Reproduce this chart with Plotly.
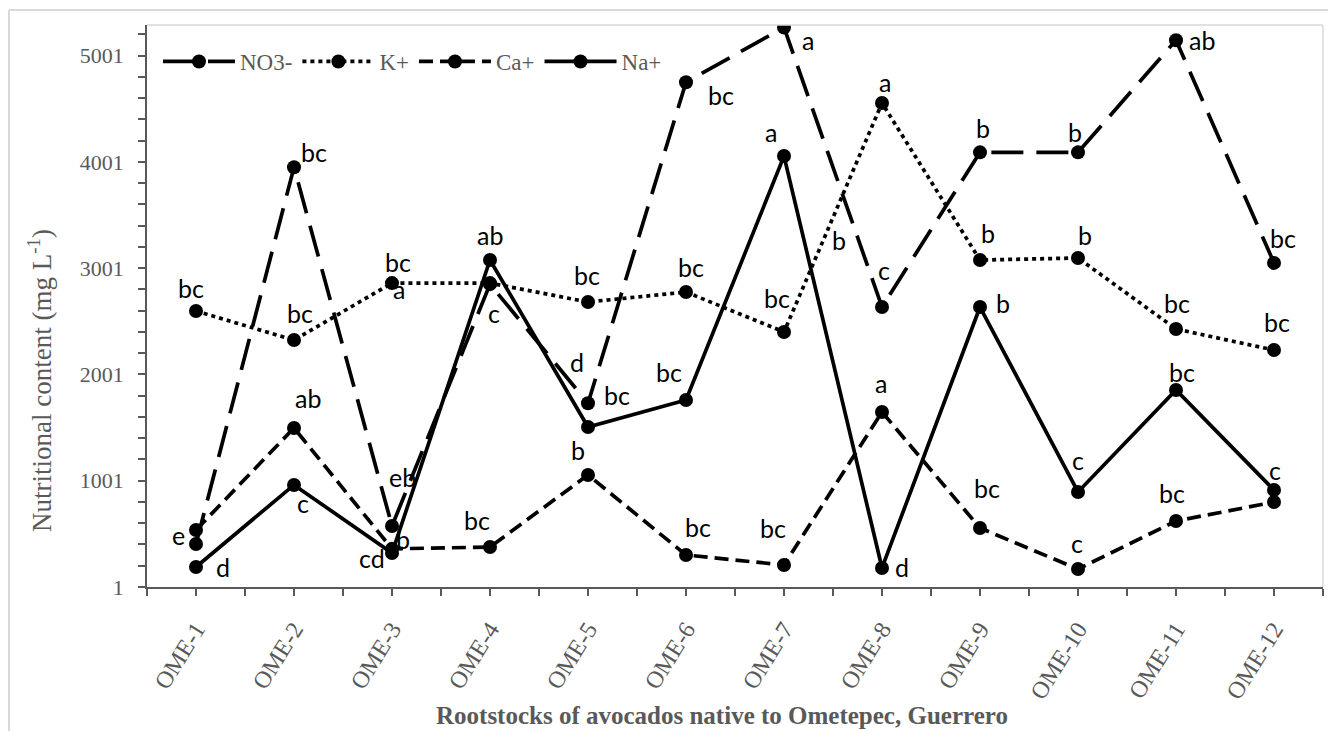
import plotly.graph_objects as go

# ---------------- data ----------------
categories = ["OME-1", "OME-2", "OME-3", "OME-4", "OME-5", "OME-6",
              "OME-7", "OME-8", "OME-9", "OME-10", "OME-11", "OME-12"]

no3 = [405, 3950, 575, 2850, 1730, 4750, 5265, 2635, 4090, 4090, 5145, 3050]
k_plus = [2597, 2324, 2860, 2860, 2682, 2776, 2400, 4554, 3077, 3096, 2428, 2230]
ca_plus = [537, 1497, 360, 377, 1055, 302, 208, 1647, 556, 170, 622, 800]
na_plus = [189, 961, 321, 3077, 1506, 1760, 4055, 180, 2635, 895, 1854, 913]

no3_letters = ["e", "bc", "eb", "c", "d", "bc", "a", "c", "b", "b", "ab", "bc"]
k_letters = ["bc", "bc", "bc", "", "bc", "bc", "bc", "a", "b", "b", "bc", "bc"]
ca_letters = ["", "ab", "b", "bc", "b", "bc", "bc", "a", "bc", "c", "bc", ""]
na_letters = ["d", "c", "cd", "ab", "bc", "bc", "a", "d", "b", "c", "bc", "c"]

y_tick_values = [1, 1001, 2001, 3001, 4001, 5001]

# ---------------- styling / placement (pixels) ----------------
no3_off = [(-18, 9), (20, 15), (10, 49), (4, -29), (-11, 41), (35, -13), (24, -13),
           (2, 37), (3, 24), (-3, 20), (26, 0), (9, 25)]
k_off = [(-5, 23), (6, 27), (6, 21), (0, 0), (-1, 27), (5, 25), (-7, 34), (3, 21),
         (8, 27), (7, 23), (1, 26), (3, 28)]
ca_off = [(0, 0), (14, 30), (11, 10), (-13, 27), (-10, 25), (12, 28), (-11, 37),
          (-1, 29), (7, 40), (-1, 26), (-4, 28), (0, 0)]
na_off = [(27, 0), (9, -18), (-20, -5), (0, 25), (29, 32), (-17, 28), (-13, 24),
          (20, 1), (23, 4), (0, 32), (6, 18), (1, 20)]
# extra stray letters in the original: (series values, index, text, dx, dy)
extra_labels = [(k_plus, 2, "a", 7, -6), (no3, 7, "b", -43, 67)]

GRAY = "#595959"
LIGHT = "#d9d9d9"
SERIF = "Liberation Serif, Times New Roman, serif"
SANS = "Lato, Carlito, Calibri, sans-serif"
LABEL_SIZE = 25

W, H = 1328, 731
L, R, T, B = 147, 5, 25, 144
PW, PH = W - L - R, H - T - B

x_idx = list(range(1, len(categories) + 1))

series = [
    ("NO3-", no3, "32px,13px", no3_letters, no3_off),
    ("K+", k_plus, "4px,4px", k_letters, k_off),
    ("Ca+", ca_plus, "14px,7px", ca_letters, ca_off),
    ("Na+", na_plus, "solid", na_letters, na_off),
]

fig = go.Figure()
for name, vals, dash, _, _ in series:
    fig.add_trace(go.Scatter(
        x=x_idx, y=vals, name=name, mode="lines+markers",
        line=dict(color="black", width=3.7, dash=dash),
        marker=dict(color="black", size=14),
    ))

annotations = []
for name, vals, dash, letters, offs in series:
    for i, (t, (dx, dy)) in enumerate(zip(letters, offs)):
        if not t:
            continue
        annotations.append(dict(x=x_idx[i], y=vals[i], xref="x", yref="y", text=t,
                                showarrow=False, xshift=dx, yshift=dy,
                                font=dict(family=SANS, size=LABEL_SIZE, color="black")))
for vals, i, t, dx, dy in extra_labels:
    annotations.append(dict(x=x_idx[i], y=vals[i], xref="x", yref="y", text=t,
                            showarrow=False, xshift=dx, yshift=dy,
                            font=dict(family=SANS, size=LABEL_SIZE, color="black")))

# axis titles
annotations.append(dict(text="Nutritional content (mg L<sup>-1</sup>)",
                        xref="paper", yref="paper",
                        x=(40 - L) / PW, y=(H - B - 381) / PH, textangle=-90,
                        xanchor="center", yanchor="middle",
                        showarrow=False, font=dict(family=SERIF, size=27, color=GRAY)))
annotations.append(dict(text="<b>Rootstocks of avocados native to Ometepec, Guerrero</b>",
                        xref="paper", yref="paper",
                        x=(722 - L) / PW, y=(H - B - 715) / PH,
                        xanchor="center", yanchor="middle",
                        showarrow=False, font=dict(family=SERIF, size=25, color=GRAY)))

# minor ticks on category boundaries
x_bounds = [i + 0.5 for i in range(0, len(categories) + 1)]

shapes = [
    # outer chart border
    dict(type="line", xref="paper", yref="paper", x0=(9 - L) / PW, x1=(W + 5 - L) / PW,
         y0=(H - B - 10) / PH, y1=(H - B - 10) / PH, line=dict(color=LIGHT, width=2)),
    dict(type="line", xref="paper", yref="paper", x0=(9 - L) / PW, x1=(9 - L) / PW,
         y0=(H - B - 10) / PH, y1=(H - B - H - 5) / PH, line=dict(color=LIGHT, width=2)),
    # plot area border (top, right)
    dict(type="line", xref="paper", yref="paper", x0=0, x1=1, y0=1, y1=1,
         line=dict(color=LIGHT, width=1.5)),
    dict(type="line", xref="paper", yref="paper", x0=1, x1=1, y0=0, y1=1,
         line=dict(color=LIGHT, width=1.5)),
]

fig.update_layout(
    width=W, height=H,
    margin=dict(l=L, r=R, t=T, b=B),
    paper_bgcolor="white", plot_bgcolor="white",
    showlegend=True,
    legend=dict(orientation="h", x=(158 - L) / PW, y=(H - B - 40) / PH,
                xanchor="left", yanchor="top",
                font=dict(family=SERIF, size=23, color=GRAY),
                bgcolor="rgba(0,0,0,0)", itemwidth=72, tracegroupgap=0),
    annotations=annotations,
    shapes=shapes,
)

fig.update_xaxes(
    range=[0.5, len(categories) + 0.5],
    tickmode="array", tickvals=x_idx, ticktext=categories,
    tickangle=-58, ticks="outside", ticklen=7, tickwidth=1.5, tickcolor=GRAY,
    ticklabelstandoff=10,
    tickfont=dict(family=SERIF, size=24, color=GRAY),
    minor=dict(tickmode="array", tickvals=x_bounds, ticks="outside",
               ticklen=7, tickwidth=1.5, tickcolor=GRAY, showgrid=False),
    showline=True, linecolor=GRAY, linewidth=1.5,
    showgrid=False, zeroline=False,
)
fig.update_yaxes(
    range=[1, 5288],
    tickmode="array", tickvals=y_tick_values,
    ticks="outside", ticklen=7, tickwidth=1.5, tickcolor=GRAY,
    ticklabelstandoff=10,
    tickfont=dict(family=SERIF, size=22, color=GRAY),
    minor=dict(tickmode="linear", tick0=1, dtick=200, ticks="outside",
               ticklen=7, tickwidth=1.5, tickcolor=GRAY, showgrid=False),
    showline=True, linecolor=GRAY, linewidth=1.5,
    showgrid=False, zeroline=False,
)

fig.write_html("out.html")
